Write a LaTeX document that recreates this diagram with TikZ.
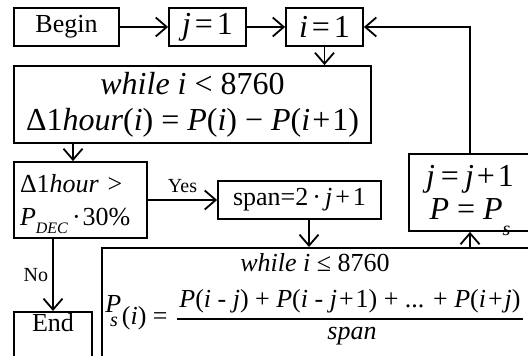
\documentclass[tikz,border=0pt]{standalone}
\usepackage{fontspec}
\setmainfont{Liberation Serif}
\usetikzlibrary{arrows.meta}
\newcommand{\itx}[1]{\textit{#1}}
\newcommand{\fsA}{\fontsize{16}{18}\selectfont}
\newcommand{\fsB}{\fontsize{13}{16.5}\selectfont}
\newcommand{\fsC}{\fontsize{10}{12}\selectfont}
\newcommand{\sbx}[3]{\raisebox{#1}[0pt][0pt]{\fontsize{#2}{#2}\selectfont\itx{#3}}}
\begin{document}
\begin{tikzpicture}[x=0.5pt,y=-0.5pt,
  box/.style={draw, line width=0.9pt, inner sep=0pt},
  arr/.style={line width=0.9pt, -{Straight Barb[length=5.5pt,width=9.5pt,line width=0.9pt]}},
  lbl/.style={font=\fsC, inner sep=1pt}]
\useasboundingbox (0,0) rectangle (528,356);
\clip (0,0) rectangle (528,356);
% top row
\node[box, minimum width=52.5pt, minimum height=19pt, font=\fsB] (begin) at (66.5,27) {Begin};
\node[box, minimum width=38.5pt, minimum height=19pt, font=\fsA] (j1) at (207.5,27) {\itx{j}\hspace{2pt}=\hspace{2pt}1};
\node[box, minimum width=38.5pt, minimum height=19pt, font=\fsA] (i1) at (324.5,27) {\itx{i}\hspace{2pt}=\hspace{2pt}1};
% while box
\node[box, minimum width=178.5pt, minimum height=38.5pt, font=\fsA, align=center] (while) at (192.5,104.5)
  {\itx{while i} < 8760\\ Δ1\itx{hour}(\itx{i}) = \itx{P}(\itx{i}) − \itx{P}(\itx{i}\hspace{1pt}+\hspace{1pt}1)};
% decision
\node[box, minimum width=66.5pt, minimum height=38pt, inner xsep=3pt, text width=60.5pt, align=left,
  font={\fontsize{13}{16.5}\selectfont}] (dec) at (80.5,200)
  {Δ1\itx{hour} >\\ \itx{P}\sbx{-4pt}{8}{DEC}\hspace{2pt}·\hspace{1pt}30\%};
% span
\node[box, minimum width=81.5pt, minimum height=19pt, font=\fsB] (span) at (299.5,200)
  {span=2\hspace{2pt}·\hspace{2pt}\itx{j}\hspace{1.5pt}+\hspace{1.5pt}1};
% j=j+1
\node[box, minimum width=61pt, minimum height=38.5pt, align=center,
  font={\fontsize{16}{16.5}\selectfont}] (jj) at (470,192.5)
  {\itx{j}\hspace{3pt}=\hspace{3pt}\itx{j}\hspace{1.5pt}+\hspace{1.5pt}1\\ \itx{P} = \itx{P}\sbx{-8pt}{10}{s}};
% second while box
\node[box, minimum width=220pt, minimum height=70pt, anchor=north west] (while2) at (101,247) {};
\node[font=\fsB, anchor=base, inner sep=0pt] (w2t) at (315,272) {\itx{while i} ≤ 8760};
\node[font=\fsB, anchor=base west, inner sep=0pt] (ps) at (105,325)
  {\itx{\raisebox{6pt}{P}}\kern-5.6pt\sbx{-1pt}{10}{s}\kern2pt(\itx{i}) =};
\node[font=\fsB, anchor=base, inner sep=0pt] (num) at (350,308)
  {\itx{P}(\itx{i} - \itx{j}) + \itx{P}(\itx{i} - \itx{j}\hspace{1pt}+\hspace{1pt}1) + ... + \itx{P}(\itx{i}\hspace{1pt}+\hspace{1pt}\itx{j})};
\draw[line width=0.7pt] (177,319) -- (523,319);
\node[font=\fsB, anchor=base, inner sep=0pt] (den) at (352,340) {\itx{span}};
% end
\node[box, minimum width=39pt, minimum height=30pt, anchor=north] (end) at (53,311) {};
\node[font=\fsB, anchor=base] (endt) at (53,332) {End};
% connectors
\draw[arr] (begin) -- (j1);
\draw[arr] (j1) -- (i1);
\draw[arr] (jj.north) |- (i1.east);
\draw[arr] (i1) -- (i1 |- while.north);
\draw[arr] ([xshift=-3.75pt]dec.north |- while.south) -- ([xshift=-3.75pt]dec.north);
\draw[arr] (dec) -- node[lbl, above=2pt]{Yes} (span);
\draw[arr] ([xshift=4.75pt]span.south) -- ([xshift=4.75pt]span.south |- while2.north);
\draw[arr] (end.north |- dec.south) -- node[lbl, left=1pt]{No} (end.north);
\draw[arr] (jj.south |- while2.north) -- (jj.south);
\end{tikzpicture}
\end{document}
